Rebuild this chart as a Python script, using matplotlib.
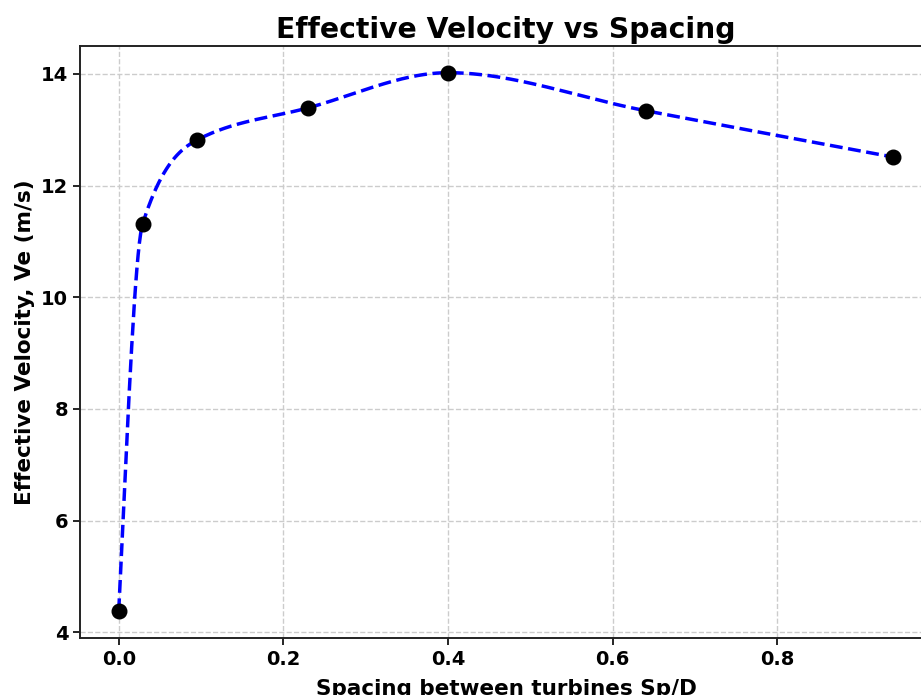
import numpy as np
import matplotlib
matplotlib.use("Agg")
import matplotlib.pyplot as plt

spacing = [0.0, 0.029, 0.0945, 0.230, 0.400, 0.640, 0.941]
velocity = [4.38, 11.31, 12.81, 13.39, 14.02, 13.34, 12.51]


def pchip(x, y, xn):
    x = np.asarray(x, float)
    y = np.asarray(y, float)
    h = np.diff(x)
    d = np.diff(y) / h
    n = len(x)
    m = np.zeros(n)
    for k in range(1, n - 1):
        if d[k - 1] * d[k] > 0:
            w1 = 2 * h[k] + h[k - 1]
            w2 = h[k] + 2 * h[k - 1]
            m[k] = (w1 + w2) / (w1 / d[k - 1] + w2 / d[k])
        else:
            m[k] = 0.0

    def endpt(h0, h1, d0, d1):
        e = ((2 * h0 + h1) * d0 - h0 * d1) / (h0 + h1)
        if np.sign(e) != np.sign(d0):
            e = 0.0
        elif np.sign(d0) != np.sign(d1) and abs(e) > abs(3 * d0):
            e = 3 * d0
        return e

    m[0] = endpt(h[0], h[1], d[0], d[1])
    m[-1] = endpt(h[-1], h[-2], d[-1], d[-2])
    idx = np.clip(np.searchsorted(x, xn) - 1, 0, n - 2)
    t = (xn - x[idx]) / h[idx]
    h00 = 2 * t**3 - 3 * t**2 + 1
    h10 = t**3 - 2 * t**2 + t
    h01 = -2 * t**3 + 3 * t**2
    h11 = t**3 - t**2
    return h00 * y[idx] + h10 * h[idx] * m[idx] + h01 * y[idx + 1] + h11 * h[idx] * m[idx + 1]


xs = np.linspace(spacing[0], spacing[-1], 600)
ys = pchip(spacing, velocity, xs)

plt.rcParams['font.family'] = ['DejaVu Sans']
plt.rcParams['font.weight'] = 'bold'

fig = plt.figure(figsize=(9.21, 6.95), dpi=100)
ax = fig.add_axes([0.0869, 0.082, 0.925, 0.852])

ax.plot(xs, ys, linestyle='--', color='blue', linewidth=2.5, zorder=2)
ax.scatter(spacing, velocity, color='black', s=110, zorder=3)

ax.set_xlim(-0.047, 0.988)
ax.set_ylim(3.9, 14.5)
ax.set_xticks([0.0, 0.2, 0.4, 0.6, 0.8])
ax.set_yticks([4, 6, 8, 10, 12, 14])
ax.tick_params(labelsize=14, width=1.2, length=5)
for lbl in ax.get_xticklabels() + ax.get_yticklabels():
    lbl.set_fontweight('bold')

ax.grid(True, linestyle='--', color='#cccccc', linewidth=1.0)
for sp in ax.spines.values():
    sp.set_linewidth(1.4)
    sp.set_color('#222222')

ax.set_title('Effective Velocity vs Spacing', fontsize=20.3, fontweight='bold', pad=6)
ax.set_xlabel('Spacing between turbines Sp/D', fontsize=15.5, fontweight='bold', labelpad=7)
ax.set_ylabel('Effective Velocity, Ve (m/s)', fontsize=15.5, fontweight='bold', labelpad=4)

fig.savefig('out.png', dpi=100)
